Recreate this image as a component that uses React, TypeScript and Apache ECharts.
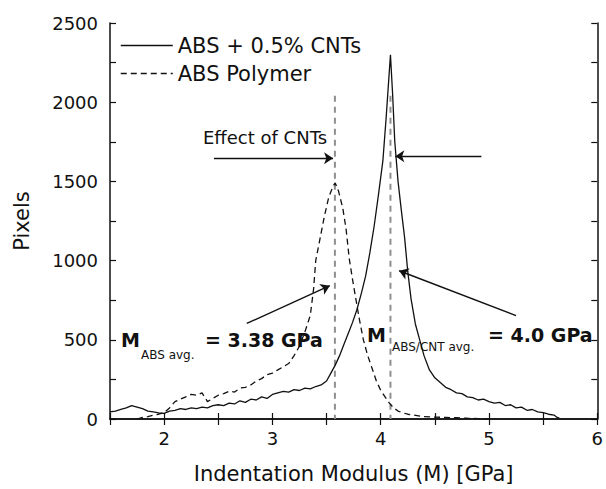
import React, { useEffect, useRef } from "react";
import * as echarts from "echarts";

// ABS + 0.5% CNTs (solid)
const cntX = [1.5, 1.55, 1.6, 1.65, 1.7, 1.75, 1.8, 1.85, 1.9, 1.95, 2.0, 2.05, 2.1, 2.15, 2.2, 2.25, 2.3, 2.35, 2.4, 2.45, 2.5, 2.55, 2.6, 2.65, 2.7, 2.75, 2.8, 2.85, 2.9, 2.95, 3.0, 3.05, 3.1, 3.15, 3.2, 3.25, 3.3, 3.35, 3.4, 3.45, 3.5, 3.54, 3.58, 3.62, 3.66, 3.7, 3.74, 3.78, 3.82, 3.86, 3.9, 3.94, 3.98, 4.02, 4.05, 4.07, 4.09, 4.11, 4.13, 4.16, 4.19, 4.22, 4.25, 4.28, 4.32, 4.36, 4.4, 4.45, 4.5, 4.55, 4.6, 4.65, 4.7, 4.75, 4.8, 4.85, 4.9, 4.95, 5.0, 5.05, 5.1, 5.15, 5.2, 5.25, 5.3, 5.35, 5.4, 5.45, 5.5, 5.55, 5.6, 5.63, 5.65];
const cntY = [45, 50, 60, 70, 85, 75, 65, 50, 45, 38, 35, 50, 55, 65, 60, 70, 65, 75, 70, 85, 90, 85, 100, 95, 115, 105, 125, 120, 140, 130, 155, 165, 175, 170, 185, 180, 195, 190, 205, 215, 240, 290, 340, 400, 470, 540, 610, 690, 790, 900, 1050, 1220, 1420, 1630, 1900, 2100, 2300, 2050, 1750, 1500, 1320, 1150, 930, 760, 600, 500, 400, 310, 260, 230, 200, 185, 165, 160, 140, 135, 120, 125, 110, 100, 105, 85, 90, 70, 75, 55, 60, 45, 40, 30, 25, 10, 5];

// ABS Polymer (dashed)
const absX = [1.75, 1.8, 1.85, 1.9, 1.95, 2.0, 2.05, 2.1, 2.15, 2.2, 2.25, 2.3, 2.35, 2.4, 2.45, 2.5, 2.55, 2.6, 2.65, 2.7, 2.75, 2.8, 2.85, 2.9, 2.95, 3.0, 3.05, 3.1, 3.15, 3.2, 3.25, 3.3, 3.35, 3.38, 3.4, 3.44, 3.48, 3.52, 3.56, 3.58, 3.61, 3.65, 3.68, 3.71, 3.74, 3.77, 3.8, 3.84, 3.88, 3.92, 3.96, 4.0, 4.04, 4.08, 4.12, 4.16, 4.2, 4.25, 4.3, 4.35, 4.4, 4.5, 4.6, 4.7, 4.8, 4.9, 5.0];
const absY = [0, 10, 15, 25, 30, 40, 70, 110, 125, 140, 155, 150, 165, 110, 130, 150, 160, 175, 170, 195, 200, 215, 240, 255, 280, 290, 310, 330, 350, 400, 460, 550, 655, 820, 1000, 1140, 1280, 1400, 1470, 1490, 1440, 1330, 1200, 1010, 880, 760, 640, 500, 400, 320, 240, 180, 140, 100, 70, 50, 40, 30, 25, 20, 15, 12, 10, 8, 5, 3, 0];

// average lines (GPa) and their top value
const avgLines = [3.577, 4.09];
const avgTop = 2040;

// annotation arrows [x1, y1, x2, y2] in data units
const arrows = [
  [2.46, 1646, 3.56, 1646],
  [4.93, 1658, 4.135, 1658],
  [2.763, 603, 3.53, 842],
  [5.25, 653, 4.17, 936],
];

const xTicks = [2, 3, 4, 5, 6];
const yTicks = [0, 500, 1000, 1500, 2000, 2500];

const FONT = "DejaVu Sans";

export default function App() {
  const ref = useRef<HTMLDivElement>(null);
  useEffect(() => {
    const chart = echarts.init(ref.current!, undefined, { renderer: "svg" });
    const axisCommon = {
      type: "value",
      axisLine: { show: true, lineStyle: { color: "#111", width: 1.5 } },
      axisTick: { show: true, inside: true, length: 6, lineStyle: { color: "#111", width: 1.2 } },
      splitLine: { show: false },
    };
    const option: any = {
      animation: false,
      backgroundColor: "#fff",
      textStyle: { fontFamily: FONT },
      grid: { left: 110, right: 4, top: 23, bottom: 68 },
      legend: {
        orient: "vertical",
        left: 115,
        top: 30,
        itemWidth: 52,
        itemHeight: 14,
        itemGap: 7,
        itemStyle: { opacity: 0, borderWidth: 0 },
        lineStyle: { width: 1.5 },
        data: ["ABS + 0.5% CNTs", "ABS Polymer"],
        textStyle: { fontFamily: FONT, fontSize: 21, color: "#111" },
      },
      xAxis: [
        {
          ...axisCommon,
          min: 1.5,
          max: 6,
          interval: 0.5,
          position: "bottom",
          name: "Indentation Modulus (M) [GPa]",
          nameLocation: "middle",
          nameGap: 44,
          nameTextStyle: { fontFamily: FONT, fontSize: 21, color: "#111" },
          axisLabel: {
            margin: 10,
            fontFamily: FONT,
            fontSize: 18,
            color: "#111",
            formatter: (v: number) => (xTicks.includes(v) ? String(v) : ""),
          },
        },
        {
          ...axisCommon,
          min: 1.5,
          max: 6,
          interval: 0.5,
          position: "top",
          axisLabel: { show: false },
        },
      ],
      yAxis: [
        {
          ...axisCommon,
          min: 0,
          max: 2500,
          interval: 250,
          position: "left",
          name: "Pixels",
          nameLocation: "middle",
          nameGap: 78,
          nameTextStyle: { fontFamily: FONT, fontSize: 21, color: "#111" },
          axisLabel: {
            margin: 12,
            fontFamily: FONT,
            fontSize: 18,
            color: "#111",
            formatter: (v: number) => (yTicks.includes(v) ? String(v) : ""),
          },
        },
        {
          ...axisCommon,
          min: 0,
          max: 2500,
          interval: 250,
          position: "right",
          axisLabel: { show: false },
        },
      ],
      series: [
        {
          name: "ABS + 0.5% CNTs",
          type: "line",
          data: cntX.map((x, i) => [x, cntY[i]]),
          symbol: "none",
          lineStyle: { color: "#111", width: 1.3, type: "solid" },
          itemStyle: { color: "#111" },
        },
        {
          name: "ABS Polymer",
          type: "line",
          data: absX.map((x, i) => [x, absY[i]]),
          symbol: "none",
          lineStyle: { color: "#111", width: 1.3, type: [6, 4] },
          itemStyle: { color: "#111" },
        },
        ...avgLines.map((x, i) => ({
          name: "avg" + i,
          type: "line",
          data: [
            [x, avgTop],
            [x, 0],
          ],
          symbol: "none",
          lineStyle: { color: "#8f8f8f", width: 2, type: [6, 5] },
          z: 1,
          markLine:
            i === 0
              ? {
                  silent: true,
                  symbol: ["none", "arrow"],
                  symbolSize: 9,
                  label: { show: false },
                  lineStyle: { color: "#111", width: 1.4, type: "solid" },
                  data: arrows.map((a) => [{ coord: [a[0], a[1]] }, { coord: [a[2], a[3]] }]),
                }
              : undefined,
        })),
      ],
      graphic: [
        { type: "text", left: 203, top: 128, style: { text: "Effect of CNTs", font: `18px ${FONT}`, fill: "#111" } },
        { type: "text", left: 121, top: 330, style: { text: "M", font: `bold 19px ${FONT}`, fill: "#111" } },
        { type: "text", left: 141, top: 349, style: { text: "ABS avg.", font: `12px ${FONT}`, fill: "#111" } },
        { type: "text", left: 205, top: 330, style: { text: "= 3.38 GPa", font: `bold 19px ${FONT}`, fill: "#111" } },
        { type: "text", left: 367, top: 325, style: { text: "M", font: `bold 19px ${FONT}`, fill: "#111" } },
        { type: "text", left: 392, top: 341, style: { text: "ABS/CNT avg.", font: `12px ${FONT}`, fill: "#111" } },
        { type: "text", left: 488, top: 325, style: { text: "= 4.0 GPa", font: `bold 19px ${FONT}`, fill: "#111" } },
      ],
    };
    chart.setOption(option);
    return () => chart.dispose();
  }, []);
  return <div ref={ref} style={{ width: 606, height: 489, position: "absolute", left: 0, top: 0 }} />;
}
